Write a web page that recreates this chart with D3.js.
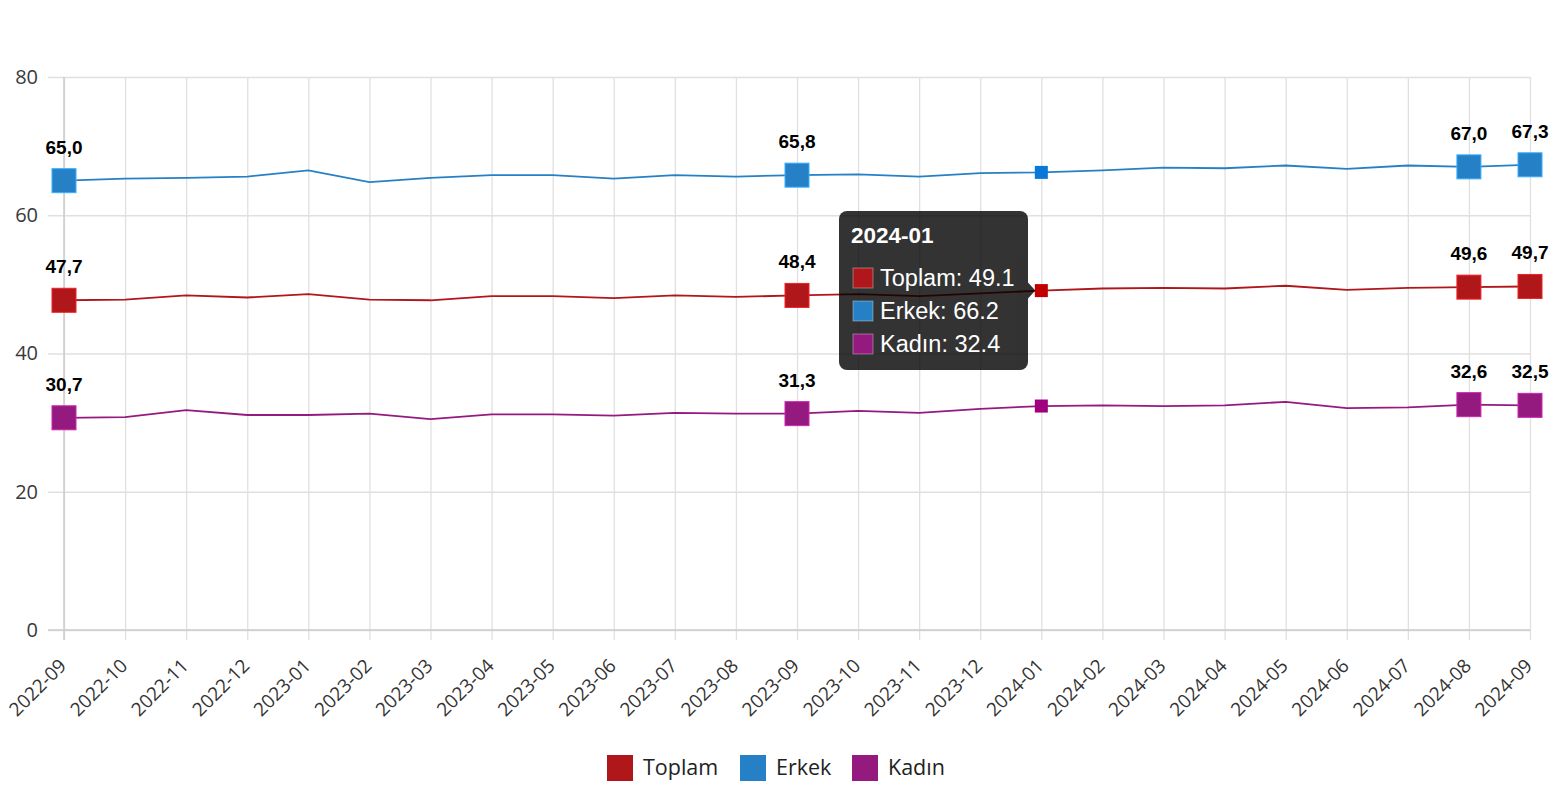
<!DOCTYPE html>
<html><head><meta charset="utf-8">
<script src="https://cdn.jsdelivr.net/npm/d3@7"></script>
<style>body{margin:0;background:#fff;}svg{display:block;}</style>
</head><body>
<svg id="c" width="1556" height="800"></svg>
<script>
const months = ["2022-09","2022-10","2022-11","2022-12","2023-01","2023-02","2023-03","2023-04","2023-05","2023-06","2023-07","2023-08","2023-09","2023-10","2023-11","2023-12","2024-01","2024-02","2024-03","2024-04","2024-05","2024-06","2024-07","2024-08","2024-09"];
const toplam = [47.7,47.8,48.4,48.1,48.6,47.8,47.7,48.3,48.3,48.0,48.4,48.2,48.4,48.6,48.3,48.7,49.1,49.4,49.5,49.4,49.8,49.2,49.5,49.6,49.7];
const erkek  = [65.0,65.3,65.4,65.6,66.5,64.8,65.4,65.8,65.8,65.3,65.8,65.6,65.8,65.9,65.6,66.1,66.2,66.5,66.9,66.8,67.2,66.7,67.2,67.0,67.3];
const kadin  = [30.7,30.8,31.8,31.1,31.1,31.3,30.5,31.2,31.2,31.0,31.4,31.3,31.3,31.7,31.4,32.0,32.4,32.5,32.4,32.5,33.0,32.1,32.2,32.6,32.5];
const seriesNames = ["Toplam","Erkek","Kadın"];
const seriesColors = ["#b0171a","#2680c6","#951a80"];
const hoverColors = ["#c00000","#0a78d8","#a0007f"];
const yTicks = [0,20,40,60,80];
const labeledIdx = [0,12,23,24];
const hoverIdx = 16;

(function () {
const series = [toplam, erkek, kadin];
const svg = d3.select("#c");
const pL = 64, pR = 1530, pT = 77, pB = 630;
const x = d3.scalePoint().domain(months).range([pL, pR]);
const y = d3.scaleLinear().domain([0, 80]).range([pB, pT]);

// horizontal grid
const gy = svg.append("g").attr("transform", `translate(${pL},0)`)
  .call(d3.axisLeft(y).tickValues(yTicks).tickSize(16).tickPadding(10));
gy.select(".domain").remove();
gy.selectAll(".tick line").attr("stroke", "#e0e0e0").attr("stroke-width", 1.3)
  .attr("x2", pR - pL).attr("x1", -16);
gy.selectAll(".tick text").attr("fill", "#3a3a3a").attr("font-size", 20)
  .attr("font-family", "'Open Sans', 'Noto Sans', sans-serif").attr("x", -26);

// vertical grid
const gx = svg.append("g").attr("transform", `translate(0,${pB})`)
  .call(d3.axisBottom(x).tickSize(10).tickPadding(6));
gx.select(".domain").remove();
gx.selectAll(".tick line").attr("stroke", "#e0e0e0").attr("stroke-width", 1.3)
  .attr("y1", pT - pB).attr("y2", 10);
gx.selectAll(".tick text").attr("fill", "#333").attr("font-size", 19)
  .attr("font-family", "'Open Sans', 'Noto Sans', sans-serif")
  .attr("text-anchor", "end").attr("dy", 0)
  .attr("transform", "translate(3,37) rotate(-45)").attr("y", 0).attr("x", 0);

// axis lines
svg.append("line").attr("x1", pL).attr("x2", pL).attr("y1", pT).attr("y2", pB + 10)
  .attr("stroke", "#cccccc").attr("stroke-width", 1.5);
svg.append("line").attr("x1", pL - 16).attr("x2", pR).attr("y1", pB).attr("y2", pB)
  .attr("stroke", "#cccccc").attr("stroke-width", 1.5);

// lines
const line = d3.line().x((d, i) => x(months[i])).y(d => y(d));
series.forEach((s, k) => {
  svg.append("path").datum(s).attr("d", line).attr("fill", "none")
    .attr("stroke", seriesColors[k]).attr("stroke-width", 1.8);
});

// big markers + labels
const fmt = v => v.toFixed(1).replace(".", ",");
series.forEach((s, k) => {
  labeledIdx.forEach(i => {
    const cx = x(months[i]), cy = y(s[i]);
    svg.append("rect").attr("x", cx - 12).attr("y", cy - 12).attr("width", 24).attr("height", 24)
      .attr("fill", seriesColors[k]).attr("stroke", d3.color(seriesColors[k]).brighter(0.9)).attr("stroke-width", 1);
    svg.append("text").attr("x", cx).attr("y", cy - 27).attr("text-anchor", "middle")
      .attr("font-family", "'Liberation Sans', Arial, sans-serif").attr("font-weight", "bold")
      .attr("font-size", 19).attr("fill", "#000").text(fmt(s[i]));
  });
});

// hover markers
series.forEach((s, k) => {
  const cx = x(months[hoverIdx]), cy = y(s[hoverIdx]);
  svg.append("rect").attr("x", cx - 6.5).attr("y", cy - 6.5).attr("width", 13).attr("height", 13)
    .attr("fill", hoverColors[k]);
});

// tooltip
const tx = 839, ty = 211, tw = 189, th = 159;
const caretX = x(months[hoverIdx]) - 6, caretY = y(toplam[hoverIdx]);
const tg = svg.append("g").attr("opacity", 0.8);
tg.append("rect").attr("x", tx).attr("y", ty).attr("width", tw).attr("height", th)
  .attr("rx", 8).attr("fill", "#000");
tg.append("path").attr("d", `M${tx + tw},${caretY - 8} L${caretX},${caretY} L${tx + tw},${caretY + 8} Z`).attr("fill", "#000");
svg.append("text").attr("x", tx + 12).attr("y", ty + 32).attr("fill", "#fff")
  .attr("font-family", "'Liberation Sans', Arial, sans-serif").attr("font-weight", "bold")
  .attr("font-size", 22.5).text(months[hoverIdx]);
series.forEach((s, k) => {
  const ry = ty + 57 + k * 33;
  svg.append("rect").attr("x", tx + 14).attr("y", ry).attr("width", 20).attr("height", 20)
    .attr("fill", seriesColors[k]).attr("stroke", "#fff").attr("stroke-opacity", 0.35).attr("stroke-width", 1);
  svg.append("text").attr("x", tx + 41).attr("y", ry + 17.5).attr("fill", "#fff")
    .attr("font-family", "'Liberation Sans', Arial, sans-serif").attr("font-size", 23.5)
    .text(`${seriesNames[k]}: ${s[hoverIdx]}`);
});

// legend
const lg = svg.append("g");
const legendX = [607, 740, 852];
seriesNames.forEach((n, k) => {
  lg.append("rect").attr("x", legendX[k]).attr("y", 755).attr("width", 26).attr("height", 26)
    .attr("fill", seriesColors[k]);
  lg.append("text").attr("x", legendX[k] + 36).attr("y", 775).attr("fill", "#222")
    .attr("font-family", "'Open Sans', 'Noto Sans', sans-serif").attr("font-size", 21.5).text(n);
});
})();
</script>
</body></html>
